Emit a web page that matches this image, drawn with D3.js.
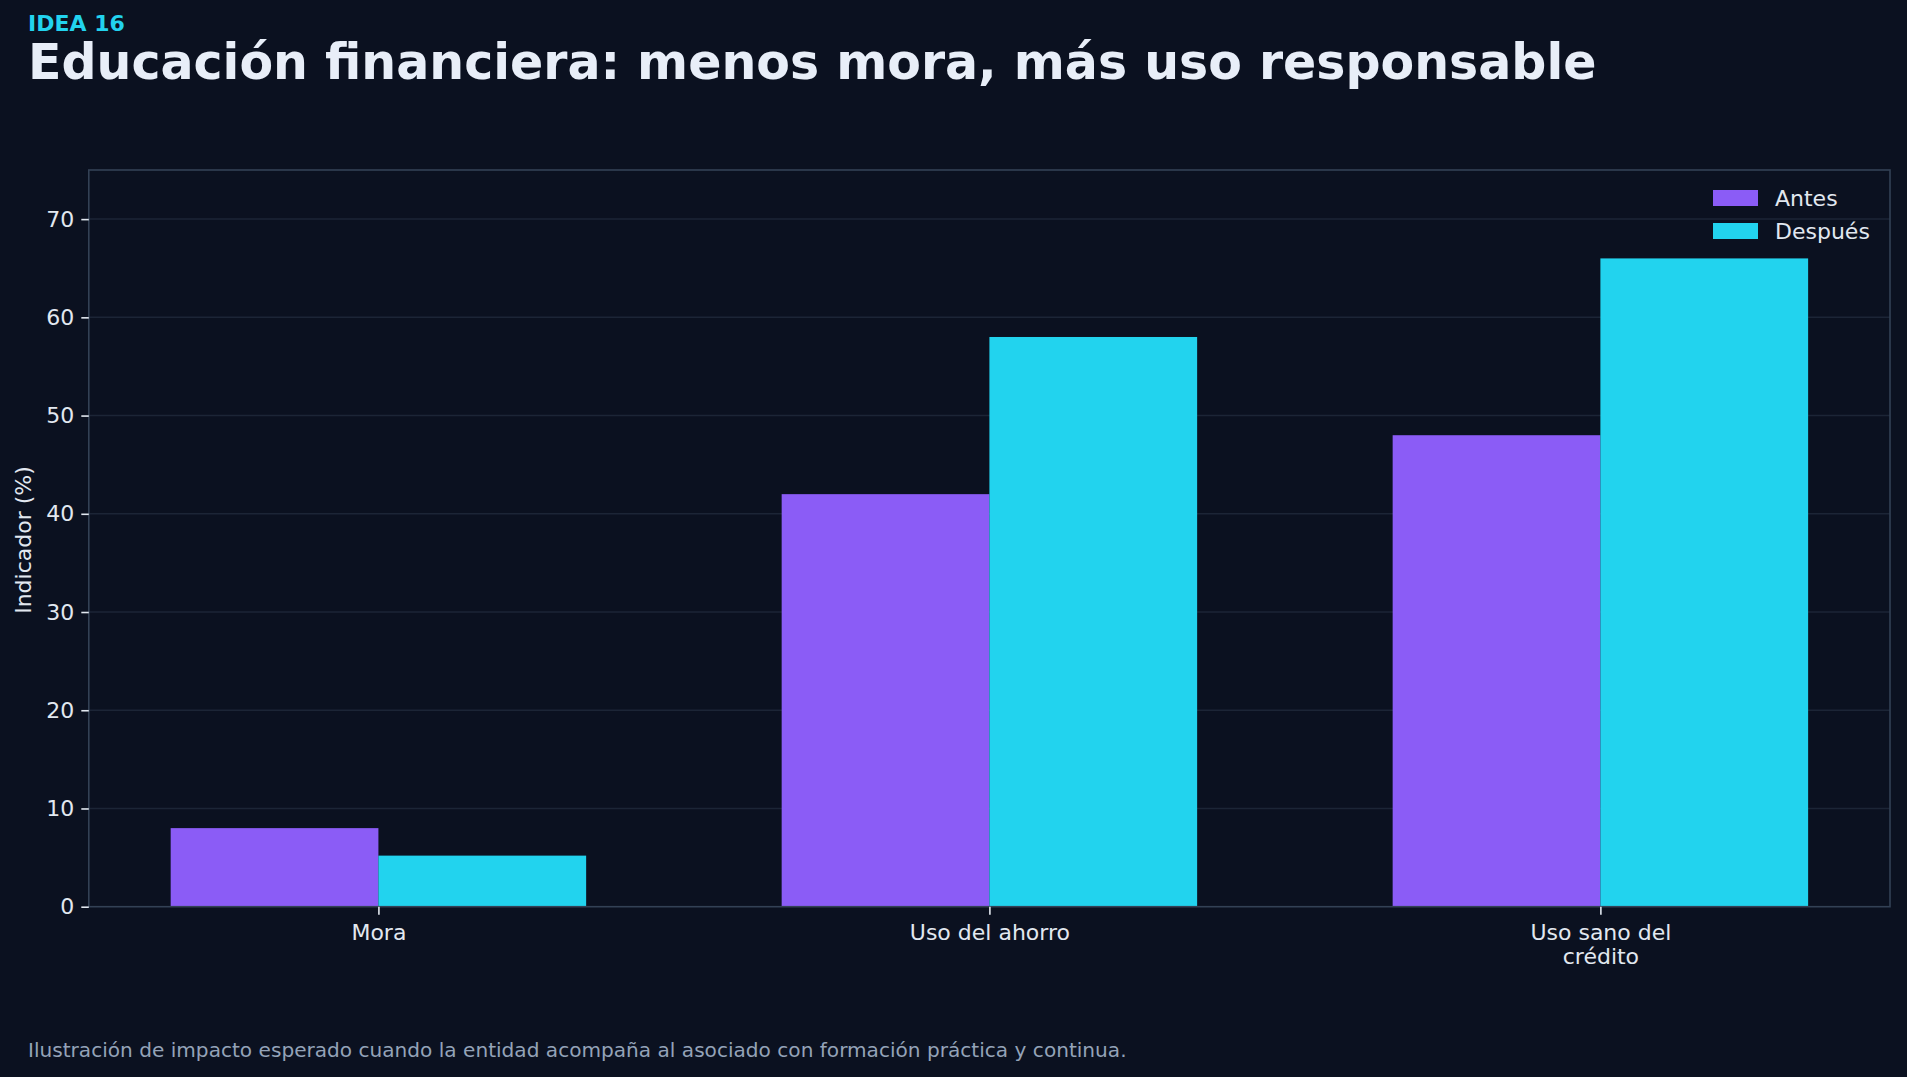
<!DOCTYPE html>
<html>
<head>
<meta charset="utf-8">
<script src="https://cdn.jsdelivr.net/npm/d3@7"></script>
<style>
  html, body { margin: 0; padding: 0; background: #0b1120; }
  svg text { font-family: "DejaVu Sans", sans-serif; }
</style>
</head>
<body>
<svg id="chart" width="1907" height="1077"></svg>
<script>
// data
var categories = [["Mora"], ["Uso del ahorro"], ["Uso sano del", "crédito"]];
var antes = [8, 42, 48];
var despues = [5.2, 58, 66];
var seriesNames = ["Antes", "Después"];
var seriesColors = ["#8b5cf6", "#22d3ee"];
var yTicks = [0, 10, 20, 30, 40, 50, 60, 70];

var margin = {left: 88.8, right: 1907 - 1890, top: 170, bottom: 1077 - 906.7};
var W = 1907, H = 1077;
var barW = 0.34;

var svg = d3.select("#chart");
svg.append("rect").attr("width", W).attr("height", H).attr("fill", "#0b1120");

var x = d3.scaleLinear().domain([-0.474, 2.474]).range([margin.left, W - margin.right]);
var y = d3.scaleLinear().domain([0, 75]).range([H - margin.bottom, margin.top]);

// grid
svg.append("g").selectAll("line")
  .data(yTicks.slice(1))
  .enter().append("line")
  .attr("x1", x.range()[0]).attr("x2", x.range()[1])
  .attr("y1", function(d) { return y(d); })
  .attr("y2", function(d) { return y(d); })
  .attr("stroke", "#1c2536")
  .attr("stroke-width", 1.5);

// bars
var series = [antes, despues];
series.forEach(function(vals, s) {
  svg.append("g").selectAll("rect")
    .data(vals)
    .enter().append("rect")
    .attr("x", function(d, i) { return x(i + (s === 0 ? -barW : 0)); })
    .attr("width", x(barW) - x(0))
    .attr("y", function(d) { return y(d); })
    .attr("height", function(d) { return y(0) - y(d); })
    .attr("fill", seriesColors[s]);
});

// frame
svg.append("rect")
  .attr("x", x.range()[0]).attr("y", y.range()[1])
  .attr("width", x.range()[1] - x.range()[0])
  .attr("height", y.range()[0] - y.range()[1])
  .attr("fill", "none")
  .attr("stroke", "#334155")
  .attr("stroke-width", 1.6);

// y axis
var yAxis = svg.append("g")
  .attr("transform", "translate(" + x.range()[0] + ",0)")
  .call(d3.axisLeft(y).tickValues(yTicks).tickSize(7.5).tickPadding(7));
yAxis.select(".domain").remove();
yAxis.selectAll("line").attr("stroke", "#e2e8f0").attr("stroke-width", 1.6);
yAxis.selectAll("text").attr("fill", "#e2e8f0").style("font-size", "22px");

// x axis
var xAxis = svg.append("g")
  .attr("transform", "translate(0," + y.range()[0] + ")")
  .call(d3.axisBottom(x).tickValues([0, 1, 2]).tickSize(8).tickFormat(""));
xAxis.select(".domain").remove();
xAxis.selectAll("line").attr("stroke", "#e2e8f0").attr("stroke-width", 1.6);
xAxis.selectAll(".tick").each(function(d) {
  var t = d3.select(this).append("text")
    .attr("fill", "#e2e8f0")
    .attr("text-anchor", "middle")
    .style("font-size", "22px");
  categories[d].forEach(function(line, k) {
    t.append("tspan").attr("x", 0).attr("y", 33 + k * 24).text(line);
  });
});

// y label
svg.append("text")
  .attr("transform", "translate(31,540) rotate(-90)")
  .attr("text-anchor", "middle")
  .attr("fill", "#e2e8f0")
  .style("font-size", "22px")
  .text("Indicador (%)");

// legend
var leg = svg.append("g");
seriesNames.forEach(function(name, i) {
  leg.append("rect")
    .attr("x", 1713).attr("y", 190 + i * 33)
    .attr("width", 45).attr("height", 16)
    .attr("fill", seriesColors[i]);
  leg.append("text")
    .attr("x", 1775).attr("y", 206 + i * 33)
    .attr("fill", "#e2e8f0")
    .style("font-size", "22px")
    .text(name);
});

// titles
svg.append("text")
  .attr("x", 28).attr("y", 31)
  .attr("fill", "#22d3ee")
  .style("font-size", "22px").style("font-weight", "bold")
  .text("IDEA 16");
svg.append("text")
  .attr("x", 28).attr("y", 79)
  .attr("fill", "#e8eef8")
  .style("font-size", "49px").style("font-weight", "bold")
  .text("Educación financiera: menos mora, más uso responsable");

svg.append("text")
  .attr("x", 28).attr("y", 1057)
  .attr("fill", "#94a3b8")
  .style("font-size", "20.1px")
  .text("Ilustración de impacto esperado cuando la entidad acompaña al asociado con formación práctica y continua.");
</script>
</body>
</html>
